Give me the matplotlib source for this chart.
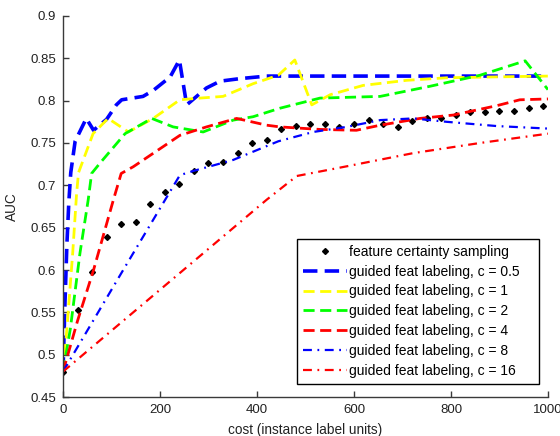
import matplotlib
matplotlib.use("Agg")
import matplotlib.pyplot as plt

plt.rcParams['font.family'] = ['Liberation Sans', 'DejaVu Sans']

# feature certainty sampling (black markers)
fcs_x = list(range(0, 1000, 30))
fcs_y = [0.480, 0.553, 0.598, 0.639, 0.654, 0.657, 0.678, 0.692, 0.701, 0.717,
         0.726, 0.727, 0.738, 0.750, 0.754, 0.767, 0.770, 0.772, 0.773, 0.769,
         0.773, 0.777, 0.772, 0.769, 0.776, 0.779, 0.780, 0.783, 0.787, 0.786,
         0.788, 0.788, 0.791, 0.794]

c05_x = [0, 4, 8, 12, 16, 25, 48, 63, 90, 110, 121, 165, 186, 221, 240, 255, 296, 324, 365, 420, 500, 1000]
c05_y = [0.480, 0.560, 0.630, 0.680, 0.715, 0.752, 0.779, 0.765, 0.778, 0.795, 0.801, 0.805, 0.812, 0.828, 0.848, 0.795, 0.815, 0.823, 0.826, 0.829, 0.829, 0.829]

c1_x = [0, 8, 20, 28, 32, 62, 93, 135, 186, 241, 282, 330, 392, 444, 478, 513, 551, 619, 709, 791, 887, 1000]
c1_y = [0.480, 0.530, 0.620, 0.690, 0.715, 0.761, 0.779, 0.763, 0.779, 0.801, 0.803, 0.805, 0.820, 0.830, 0.848, 0.795, 0.807, 0.818, 0.824, 0.827, 0.828, 0.829]

c2_x = [0, 15, 35, 52, 59, 76, 128, 183, 227, 289, 351, 392, 447, 530, 654, 757, 860, 953, 1000]
c2_y = [0.480, 0.530, 0.620, 0.683, 0.714, 0.726, 0.761, 0.779, 0.769, 0.763, 0.777, 0.781, 0.791, 0.803, 0.805, 0.817, 0.830, 0.847, 0.813]

c4_x = [0, 30, 63, 104, 120, 145, 241, 296, 358, 420, 447, 530, 605, 654, 736, 805, 894, 942, 1000]
c4_y = [0.480, 0.540, 0.600, 0.683, 0.714, 0.722, 0.759, 0.769, 0.779, 0.771, 0.769, 0.766, 0.765, 0.771, 0.779, 0.783, 0.794, 0.801, 0.802]

c8_x = [0, 121, 241, 269, 351, 444, 516, 585, 654, 722, 791, 894, 1000]
c8_y = [0.480, 0.597, 0.712, 0.717, 0.730, 0.752, 0.763, 0.769, 0.777, 0.779, 0.775, 0.770, 0.767]

c16_x = [0, 420, 482, 590, 722, 860, 1000]
c16_y = [0.480, 0.683, 0.711, 0.723, 0.738, 0.750, 0.761]

labels = ['feature certainty sampling',
          'guided feat labeling, c = 0.5',
          'guided feat labeling, c = 1',
          'guided feat labeling, c = 2',
          'guided feat labeling, c = 4',
          'guided feat labeling, c = 8',
          'guided feat labeling, c = 16']

xticks = [0, 200, 400, 600, 800, 1000]
yticks = [0.45, 0.5, 0.55, 0.6, 0.65, 0.7, 0.75, 0.8, 0.85, 0.9]

fig = plt.figure(figsize=(5.6, 4.36), dpi=100)
ax = fig.add_axes([0.1125, 0.0894, 0.866, 0.874])

dash = (0, (4, 2))
dashdot = (0, (4, 2.5, 0.8, 2.5))

ax.plot(fcs_x, fcs_y, linestyle='none', marker='D', markersize=3.0, color='black', label=labels[0])
ax.plot(c05_x, c05_y, color='#0000ff', lw=2.6, linestyle=dash, label=labels[1])
ax.plot(c1_x, c1_y, color='#ffff00', lw=2.0, linestyle=dash, label=labels[2])
ax.plot(c2_x, c2_y, color='#00ff00', lw=2.0, linestyle=dash, label=labels[3])
ax.plot(c4_x, c4_y, color='#ff0000', lw=2.0, linestyle=dash, label=labels[4])
ax.plot(c8_x, c8_y, color='#0000ff', lw=1.6, linestyle=dashdot, label=labels[5])
ax.plot(c16_x, c16_y, color='#ff0000', lw=1.6, linestyle=dashdot, label=labels[6])

ax.set_xlim(0, 1000)
ax.set_ylim(0.45, 0.9)
ax.set_xticks(xticks)
ax.set_yticks(yticks)
ax.set_xticklabels([str(t) for t in xticks])
ax.set_yticklabels([('%g' % t) for t in yticks])

axcol = '#3a3a3a'
for s in ['top', 'right']:
    ax.spines[s].set_visible(False)
for s in ['left', 'bottom']:
    ax.spines[s].set_color(axcol)
    ax.spines[s].set_linewidth(1.0)
ax.tick_params(direction='in', length=4, width=1, colors=axcol, labelsize=9.5,
               labelcolor='#222222', pad=5)

ax.set_xlabel('cost (instance label units)', fontsize=9.8, color='#222222', labelpad=5)
ax.set_ylabel('AUC', fontsize=9.8, color='#222222', labelpad=8)

leg = ax.legend(loc='lower left', bbox_to_anchor=(0.483, 0.034, 0.499, 0.376),
                mode='expand', fontsize=10,
                frameon=True, fancybox=False, framealpha=1, edgecolor='black',
                handlelength=3.1, handletextpad=0.2, labelspacing=0.42,
                borderpad=0.45, borderaxespad=0)
leg.get_frame().set_linewidth(1.0)

fig.savefig('out.png', dpi=100)
